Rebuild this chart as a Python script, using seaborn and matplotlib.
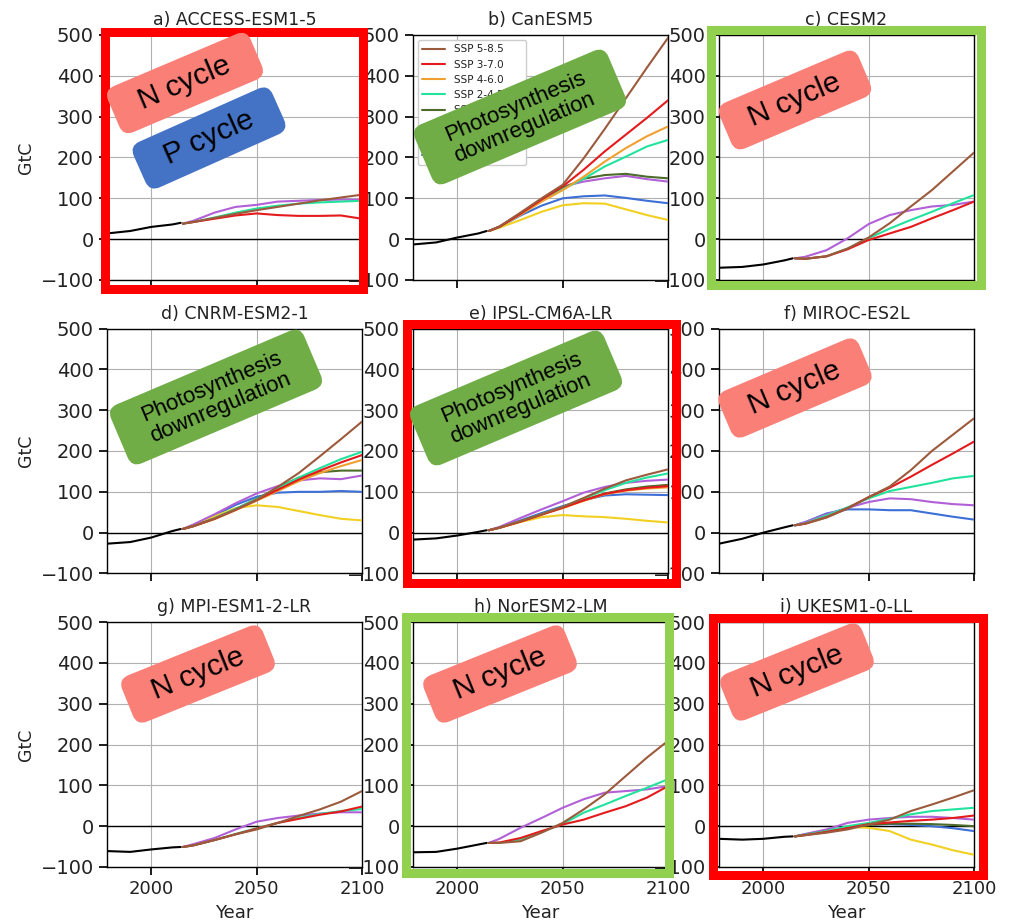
import matplotlib
matplotlib.use("Agg")
import matplotlib.pyplot as plt
from matplotlib.patches import FancyBboxPatch, Rectangle
from matplotlib.transforms import Affine2D
import pandas as pd
import seaborn as sns

# ---------------------------------------------------------------- data
HIST_YEARS = [1979, 1990, 2000, 2010, 2014]
SSP_YEARS = [2015, 2020, 2030, 2040, 2050, 2060, 2070, 2080, 2090, 2100]

SCENARIOS = ["SSP 5-8.5", "SSP 3-7.0", "SSP 4-6.0", "SSP 2-4.5",
             "SSP 4-3.4", "SSP 1-2.6", "SSP 5-3.4-OS", "SSP 1-1.9"]
SCENARIO_COLORS = ["#9b5a3c", "#e41a1c", "#f0a030", "#22e39d",
                   "#4d6b2a", "#b160d8", "#f2d022", "#3d6fd6"]

TITLES = ["a) ACCESS-ESM1-5", "b) CanESM5", "c) CESM2",
          "d) CNRM-ESM2-1", "e) IPSL-CM6A-LR", "f) MIROC-ES2L",
          "g) MPI-ESM1-2-LR", "h) NorESM2-LM", "i) UKESM1-0-LL"]

access_hist = [14, 20, 30, 36, 40]
access = {
    "SSP 5-8.5": [38, 42, 52, 62, 71, 79, 87, 95, 102, 109],
    "SSP 3-7.0": [38, 42, 50, 58, 63, 59, 57, 57, 58, 50],
    "SSP 2-4.5": [38, 42, 53, 65, 75, 82, 87, 90, 92, 94],
    "SSP 1-2.6": [38, 45, 65, 79, 84, 92, 94, 96, 97, 96],
}

canesm_hist = [-13, -8, 4, 14, 20]
canesm = {
    "SSP 5-8.5": [20, 31, 65, 100, 133, 198, 270, 345, 420, 493],
    "SSP 3-7.0": [20, 30, 62, 97, 129, 170, 215, 256, 297, 340],
    "SSP 4-6.0": [20, 30, 60, 92, 120, 153, 190, 223, 252, 276],
    "SSP 2-4.5": [20, 30, 60, 93, 122, 148, 178, 202, 227, 243],
    "SSP 4-3.4": [20, 30, 62, 95, 125, 148, 157, 160, 153, 149],
    "SSP 1-2.6": [20, 31, 63, 97, 129, 141, 149, 155, 147, 141],
    "SSP 5-3.4-OS": [20, 28, 47, 67, 83, 88, 87, 73, 59, 47],
    "SSP 1-1.9": [20, 30, 58, 82, 100, 105, 107, 101, 94, 88],
}

cesm_hist = [-70, -68, -62, -52, -47]
cesm = {
    "SSP 5-8.5": [-47, -48, -42, -23, 4, 39, 80, 120, 166, 212],
    "SSP 3-7.0": [-47, -48, -42, -25, -2, 14, 30, 51, 71, 92],
    "SSP 2-4.5": [-47, -48, -42, -23, 2, 26, 47, 67, 88, 108],
    "SSP 1-2.6": [-47, -43, -27, 2, 37, 59, 71, 80, 84, 92],
}

cnrm_hist = [-27, -23, -12, 4, 9]
cnrm = {
    "SSP 5-8.5": [9, 16, 34, 56, 80, 112, 146, 187, 229, 272],
    "SSP 3-7.0": [9, 16, 34, 56, 80, 105, 130, 152, 172, 190],
    "SSP 4-6.0": [9, 16, 33, 55, 78, 102, 126, 146, 163, 178],
    "SSP 2-4.5": [9, 16, 35, 58, 82, 108, 135, 158, 180, 198],
    "SSP 4-3.4": [9, 16, 35, 58, 83, 110, 135, 148, 152, 152],
    "SSP 1-2.6": [9, 20, 45, 72, 96, 114, 128, 133, 131, 140],
    "SSP 5-3.4-OS": [9, 18, 40, 60, 67, 63, 53, 43, 34, 30],
    "SSP 1-1.9": [9, 19, 42, 68, 88, 98, 100, 100, 102, 100],
}

ipsl_hist = [-17, -14, -7, 2, 6]
ipsl = {
    "SSP 5-8.5": [6, 12, 28, 45, 63, 85, 108, 128, 142, 155],
    "SSP 3-7.0": [6, 12, 27, 44, 61, 79, 95, 104, 110, 114],
    "SSP 4-6.0": [6, 12, 27, 44, 60, 78, 94, 103, 108, 111],
    "SSP 2-4.5": [6, 12, 28, 45, 63, 84, 104, 122, 135, 145],
    "SSP 4-3.4": [6, 12, 28, 45, 62, 80, 96, 106, 113, 117],
    "SSP 1-2.6": [6, 14, 36, 57, 77, 98, 112, 122, 127, 130],
    "SSP 5-3.4-OS": [6, 12, 26, 38, 43, 40, 38, 34, 29, 25],
    "SSP 1-1.9": [6, 13, 30, 48, 65, 80, 91, 94, 93, 92],
}

miroc_hist = [-27, -15, 0, 13, 18]
miroc = {
    "SSP 5-8.5": [18, 22, 37, 59, 87, 113, 153, 200, 240, 280],
    "SSP 3-7.0": [18, 22, 38, 60, 87, 110, 137, 166, 194, 223],
    "SSP 2-4.5": [18, 23, 42, 62, 84, 102, 112, 122, 133, 139],
    "SSP 1-2.6": [18, 26, 45, 61, 75, 84, 82, 75, 70, 67],
    "SSP 1-1.9": [18, 26, 47, 57, 57, 55, 55, 47, 39, 32],
}

mpi_hist = [-61, -63, -57, -52, -51]
mpi = {
    "SSP 5-8.5": [-51, -47, -34, -20, -8, 8, 25, 41, 60, 86],
    "SSP 3-7.0": [-51, -47, -34, -20, -6, 8, 18, 28, 36, 48],
    "SSP 2-4.5": [-51, -47, -34, -19, -5, 8, 20, 30, 37, 42],
    "SSP 1-2.6": [-51, -44, -29, -8, 11, 20, 26, 31, 34, 34],
}

noresm_hist = [-64, -63, -55, -45, -41]
noresm = {
    "SSP 5-8.5": [-41, -41, -37, -16, 8, 41, 78, 123, 168, 209],
    "SSP 3-7.0": [-41, -40, -29, -12, 4, 16, 33, 49, 70, 98],
    "SSP 2-4.5": [-41, -41, -33, -14, 5, 33, 53, 74, 94, 115],
    "SSP 1-2.6": [-41, -31, -4, 20, 45, 66, 82, 86, 90, 98],
}

ukesm_hist = [-31, -33, -31, -26, -25]
ukesm = {
    "SSP 5-8.5": [-25, -22, -16, -8, 4, 16, 37, 53, 70, 88],
    "SSP 3-7.0": [-25, -22, -14, -5, 5, 9, 13, 16, 20, 26],
    "SSP 2-4.5": [-25, -21, -12, 0, 8, 18, 29, 37, 41, 45],
    "SSP 4-3.4": [-25, -21, -12, -3, 3, 6, 6, 5, 3, 0],
    "SSP 1-2.6": [-25, -19, -8, 8, 16, 20, 23, 23, 20, 16],
    "SSP 5-3.4-OS": [-25, -20, -12, -2, -4, -12, -33, -45, -59, -70],
    "SSP 1-1.9": [-25, -20, -10, -3, 4, 5, 3, 0, -5, -12],
}

HISTORIES = [access_hist, canesm_hist, cesm_hist, cnrm_hist, ipsl_hist,
             miroc_hist, mpi_hist, noresm_hist, ukesm_hist]
PROJECTIONS = [access, canesm, cesm, cnrm, ipsl, miroc, mpi, noresm, ukesm]

Y_TICKS = [-100, 0, 100, 200, 300, 400, 500]
X_TICKS = [2000, 2050, 2100]

# ------------------------------------------------------------- styling
W_PX, H_PX, DPI = 1011, 922, 100
sns.set_theme(style="ticks", rc={
    "axes.grid": True,
    "grid.color": "#b0b0b0",
    "grid.linewidth": 0.8,
    "axes.edgecolor": "black",
    "axes.linewidth": 1.0,
    "xtick.color": "black",
    "ytick.color": "black",
    "xtick.labelcolor": "#222222",
    "ytick.labelcolor": "#222222",
    "text.color": "#222222",
    "axes.labelcolor": "#222222",
})
plt.rcParams["font.family"] = ["DejaVu Sans"]

palette = dict(zip(SCENARIOS, SCENARIO_COLORS))
LW = 1.5

fig, axes = plt.subplots(3, 3, figsize=(W_PX / DPI, H_PX / DPI), dpi=DPI,
                         sharex=True)
fig.subplots_adjust(left=107 / W_PX, right=974 / W_PX,
                    top=1 - 35 / H_PX, bottom=1 - 867 / H_PX,
                    wspace=0.2, hspace=0.198)

for i, ax in enumerate(axes.flat):
    proj = PROJECTIONS[i]
    rows = []
    for scen, vals in proj.items():
        for yr, v in zip(SSP_YEARS, vals):
            rows.append({"Year": yr, "GtC": v, "Scenario": scen})
    df = pd.DataFrame(rows)
    present = [s for s in SCENARIOS if s in proj]

    ax.axhline(0, color="black", lw=1.0, zorder=1.5)
    sns.lineplot(x=HIST_YEARS, y=HISTORIES[i], color="black", lw=LW,
                 ax=ax, zorder=3)
    sns.lineplot(data=df, x="Year", y="GtC", hue="Scenario",
                 hue_order=present[::-1], palette=palette, lw=LW,
                 ax=ax, legend=(i == 1), zorder=3)

    ax.set_xlim(1979, 2100)
    ax.set_ylim(-100, 500)
    ax.set_yticks(Y_TICKS)
    ax.set_xticks(X_TICKS)
    ax.tick_params(axis="y", labelsize=14)
    ax.tick_params(axis="x", labelsize=13)
    ax.set_title(TITLES[i], fontsize=12.5, color="#222222", pad=7)
    ax.set_ylabel("GtC" if i % 3 == 0 else "", fontsize=12.5)
    ax.set_xlabel("Year" if i >= 6 else "", fontsize=13)

    if i == 1:
        handles, labels = ax.get_legend_handles_labels()
        lookup = dict(zip(labels, handles))
        ax.legend([lookup[s] for s in SCENARIOS], SCENARIOS,
                  loc="upper left", fontsize=7.5, frameon=True,
                  edgecolor="#cccccc", framealpha=1.0, handlelength=2.2)

# ------------------------------------------------ coloured panel frames
FRAMES = [  # outer left, top, right, bottom (pixels), colour
    (100, 27, 367, 293, "#ff0000"),
    (706, 25, 985, 289, "#92d050"),
    (402, 319, 680, 587, "#ff0000"),
    (401, 612, 673, 877, "#92d050"),
    (708, 613, 987, 879, "#ff0000"),
]
FRAME_T = 9
to_fig = Affine2D().scale(1 / DPI) + fig.dpi_scale_trans
for x0, y0, x1, y1, col in FRAMES:
    h = FRAME_T / 2
    fig.patches.append(Rectangle(
        (x0 + h, H_PX - y1 + h), (x1 - x0) - FRAME_T, (y1 - y0) - FRAME_T,
        fill=False, edgecolor=col, lw=FRAME_T * 72 / DPI,
        joinstyle="miter", transform=to_fig, zorder=20))

# ------------------------------------------------ mechanism call-out tags
N_COL, P_COL, PH_COL = "#fa7f77", "#4472c4", "#70ad47"
PHOTO = "Photosynthesis\ndownregulation"
TAGS = [  # centre x, centre y, width, height, angle, colour, text, size
    (185, 83, 155, 50, 23, N_COL, "N cycle", 21.5),
    (209, 138, 152, 50, 24, P_COL, "P cycle", 21.5),
    (520, 117, 210, 64, 23, PH_COL, PHOTO, 16),
    (795, 100, 151, 50, 23, N_COL, "N cycle", 21.5),
    (216, 397, 210, 64, 23, PH_COL, PHOTO, 16),
    (516, 398, 210, 64, 23, PH_COL, PHOTO, 16),
    (795, 388, 152, 50, 23, N_COL, "N cycle", 21.5),
    (198, 674, 152, 50, 22, N_COL, "N cycle", 21.5),
    (500, 674, 152, 50, 22, N_COL, "N cycle", 21.5),
    (797, 672, 152, 50, 22, N_COL, "N cycle", 21.5),
]
for cx, cy, w, h, ang, col, txt, fs in TAGS:
    tr = (Affine2D().rotate_deg(ang).translate(cx, H_PX - cy)
          .scale(1 / DPI) + fig.dpi_scale_trans)
    fig.patches.append(FancyBboxPatch(
        (-w / 2, -h / 2), w, h,
        boxstyle="round,pad=0,rounding_size=11",
        facecolor=col, edgecolor="none", transform=tr, zorder=30))
    fig.text(cx / W_PX, 1 - cy / H_PX, txt, rotation=ang,
             rotation_mode="anchor", ha="center", va="center",
             multialignment="center", fontsize=fs, color="black",
             family=["Liberation Sans", "DejaVu Sans"], linespacing=1.1,
             zorder=31)

fig.savefig("out.png", dpi=DPI)
